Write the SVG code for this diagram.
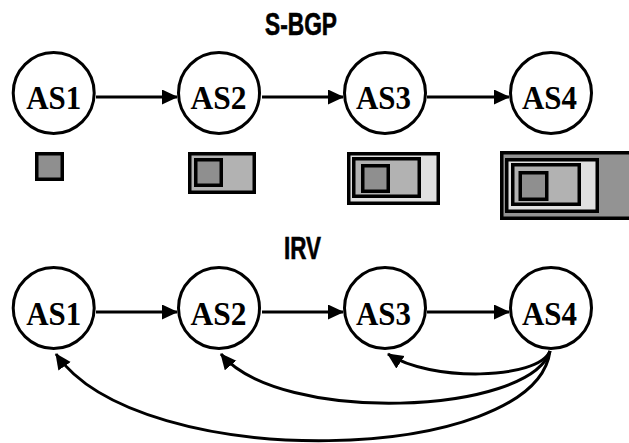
<svg xmlns="http://www.w3.org/2000/svg" width="629" height="443" viewBox="0 0 629 443">
  <style>
    .node circle { fill: #ffffff; stroke: #000000; stroke-width: 3; }
    .node text { font-family: "Liberation Serif", "Times New Roman", serif; font-weight: bold; font-size: 33px; text-anchor: middle; fill: #000000; }
    .title { font-family: "Liberation Sans", Arial, sans-serif; font-weight: bold; font-size: 31px; text-anchor: middle; fill: #000000; stroke: #000000; stroke-width: 0.6; }
    .conn { fill: none; stroke: #000000; stroke-width: 3; }
    .box rect { stroke: #000000; stroke-width: 3.5; }
    .d { fill: #8f8f8f; }
    .m { fill: #b2b2b2; }
    .l { fill: #e0e0e0; }
    .o { fill: #939393; }
  </style>
  <defs>
    <marker id="arrow" markerUnits="userSpaceOnUse" markerWidth="18" markerHeight="16" refX="15" refY="7.5" orient="auto">
      <path d="M0,0 L16,7.5 L0,15 Z" fill="#000000"/>
    </marker>
  </defs>

  <rect width="629" height="443" fill="#ffffff"/>

  <text class="title" x="301" y="35" textLength="72" lengthAdjust="spacingAndGlyphs">S-BGP</text>
  <text class="title" x="302.5" y="259" textLength="37" lengthAdjust="spacingAndGlyphs">IRV</text>

  <g id="connectors">
    <line class="conn" x1="96" y1="97" x2="177" y2="97" marker-end="url(#arrow)"/>
    <line class="conn" x1="262" y1="97" x2="343" y2="97" marker-end="url(#arrow)"/>
    <line class="conn" x1="427" y1="97" x2="509" y2="97" marker-end="url(#arrow)"/>
    <line class="conn" x1="96" y1="312" x2="177" y2="312" marker-end="url(#arrow)"/>
    <line class="conn" x1="262" y1="312" x2="343" y2="312" marker-end="url(#arrow)"/>
    <line class="conn" x1="427" y1="312" x2="509" y2="312" marker-end="url(#arrow)"/>
    <path class="conn" d="M550,351 C538,380 430,382 388,354" marker-end="url(#arrow)"/>
    <path class="conn" d="M550,351 C530,415 280,425 221,354" marker-end="url(#arrow)"/>
    <path class="conn" d="M550,351 C535,465 140,475 56,354" marker-end="url(#arrow)"/>
  </g>

  <g id="sbgp-as1" class="node"><circle cx="53.7" cy="93" r="40.5"/><text x="53.7" y="109" textLength="55" lengthAdjust="spacingAndGlyphs">AS1</text></g>
  <g id="sbgp-as2" class="node"><circle cx="219" cy="93" r="40.5"/><text x="218.5" y="109" textLength="56" lengthAdjust="spacingAndGlyphs">AS2</text></g>
  <g id="sbgp-as3" class="node"><circle cx="385" cy="93" r="40.5"/><text x="383.5" y="109" textLength="55" lengthAdjust="spacingAndGlyphs">AS3</text></g>
  <g id="sbgp-as4" class="node"><circle cx="551" cy="93" r="40.5"/><text x="549.5" y="109" textLength="55" lengthAdjust="spacingAndGlyphs">AS4</text></g>

  <g id="irv-as1" class="node"><circle cx="53.7" cy="308" r="40.5"/><text x="53.7" y="325" textLength="55" lengthAdjust="spacingAndGlyphs">AS1</text></g>
  <g id="irv-as2" class="node"><circle cx="219" cy="308" r="40.5"/><text x="218.5" y="325" textLength="56" lengthAdjust="spacingAndGlyphs">AS2</text></g>
  <g id="irv-as3" class="node"><circle cx="385" cy="308" r="40.5"/><text x="383.5" y="325" textLength="55" lengthAdjust="spacingAndGlyphs">AS3</text></g>
  <g id="irv-as4" class="node"><circle cx="551" cy="308" r="40.5"/><text x="549.5" y="325" textLength="55" lengthAdjust="spacingAndGlyphs">AS4</text></g>

  <g id="box-as1" class="box">
    <rect class="d" x="36.75" y="153.75" width="25.5" height="25.5"/>
  </g>
  <g id="box-as2" class="box">
    <rect class="m" x="189.75" y="153.75" width="64.5" height="38.5"/>
    <rect class="d" x="195.75" y="159.75" width="25.5" height="25.5"/>
  </g>
  <g id="box-as3" class="box">
    <rect class="l" x="348.75" y="153.75" width="89.5" height="49.5"/>
    <rect class="m" x="353.75" y="158.75" width="65.5" height="37.5"/>
    <rect class="d" x="362.75" y="165.75" width="25.5" height="25.5"/>
  </g>
  <g id="box-as4" class="box">
    <rect class="o" x="501.75" y="152.75" width="200" height="65.5"/>
    <rect class="l" x="506.75" y="159.75" width="90.5" height="51.5"/>
    <rect class="m" x="512.75" y="164.75" width="66.5" height="39.5"/>
    <rect class="d" x="520.25" y="172.75" width="26.5" height="26.5"/>
  </g>
</svg>
